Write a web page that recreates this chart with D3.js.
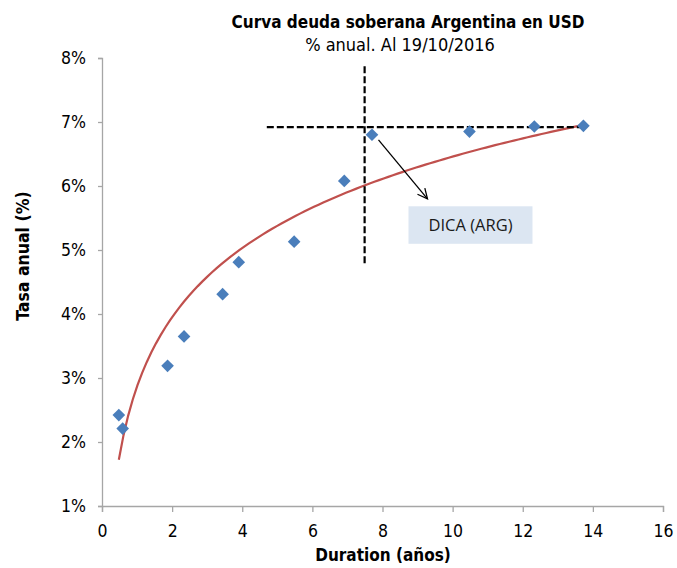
<html>
<script src="https://d3js.org/d3.v7.min.js"></script>
<body style="margin:0">
<div id="chart"></div>
<script>

// data
var duration = [0.48, 0.59, 1.87, 2.34, 3.44, 3.90, 5.48, 6.91, 7.70, 10.48, 12.33, 13.73]
var tasa = [2.42, 2.21, 3.19, 3.65, 4.31, 4.81, 5.13, 6.08, 6.80, 6.85, 6.93, 6.94]
var x_ticks = [0, 2, 4, 6, 8, 10, 12, 14, 16]
var y_ticks = [1, 2, 3, 4, 5, 6, 7, 8]

// reference lines (duration / tasa)
var ref_vertical = {x: 7.49, y1: 4.78, y2: 7.87}
var ref_horizontal = {y: 6.92, x1: 4.70, x2: 13.73}
var dica_label = "DICA (ARG)"

var svg_width = 677
var svg_height = 568
var margin = {left: 102, right: 14, top: 58, bottom: 62}

var svg = d3.select("#chart").append("svg")
.attr("width", svg_width)
.attr("height", svg_height)
.style("background", "white")

var x = d3.scaleLinear()
.domain([0, 16])
.range([margin.left, svg_width - margin.right])

var y = d3.scaleLinear()
.domain([1, 8])
.range([svg_height - margin.bottom, margin.top])

var tick_font = "'DejaVu Sans Condensed', 'DejaVu Sans', sans-serif"

// axes
var x_axis = svg.append("g")
.attr("transform", "translate(0," + y(1) + ")")
.call(d3.axisBottom(x).tickValues(x_ticks).tickSize(6).tickPadding(13))

var y_axis = svg.append("g")
.attr("transform", "translate(" + x(0) + ",0)")
.call(d3.axisLeft(y).tickValues(y_ticks).tickSize(4).tickPadding(12).tickFormat(function(d) { return d + "%" }))

svg.selectAll(".domain, .tick line")
.style("stroke", "#a6a6a6")
.style("stroke-width", 1.3)

svg.selectAll(".tick text")
.style("font-family", tick_font)
.style("font-size", "17.5px")
.style("fill", "#000")

// log trendline (least squares on ln(duration))
var ln_x = duration.map(function(d) { return Math.log(d) })
var mean_l = d3.mean(ln_x)
var mean_y = d3.mean(tasa)
var sxy = d3.sum(ln_x, function(l, i) { return (l - mean_l) * (tasa[i] - mean_y) })
var sxx = d3.sum(ln_x, function(l) { return (l - mean_l) * (l - mean_l) })
var slope = sxy / sxx
var intercept = mean_y - slope * mean_l

var x_min = d3.min(duration)
var x_max = d3.max(duration)
var trend_pts = d3.range(0, 101).map(function(i) {
  var xv = x_min + (x_max - x_min) * i / 100
  return [xv, intercept + slope * Math.log(xv)]
})

svg.append("path")
.attr("d", d3.line().x(function(d) { return x(d[0]) }).y(function(d) { return y(d[1]) })(trend_pts))
.style("fill", "none")
.style("stroke", "#c0504d")
.style("stroke-width", 2.2)

// dashed reference lines
svg.append("line")
.attr("x1", x(ref_vertical.x)).attr("x2", x(ref_vertical.x))
.attr("y1", y(ref_vertical.y2)).attr("y2", y(ref_vertical.y1))
.style("stroke", "#000")
.style("stroke-width", 2.2)
.style("stroke-dasharray", "7,3")

svg.append("line")
.attr("x1", x(ref_horizontal.x1)).attr("x2", x(ref_horizontal.x2))
.attr("y1", y(ref_horizontal.y)).attr("y2", y(ref_horizontal.y))
.style("stroke", "#000")
.style("stroke-width", 2.2)
.style("stroke-dasharray", "7,3")

// markers
svg.selectAll(".pt")
.data(duration)
.enter().append("path")
.attr("class", "pt")
.attr("d", d3.symbol().type(d3.symbolSquare).size(80))
.attr("transform", function(d, i) { return "translate(" + x(d) + "," + y(tasa[i]) + ") rotate(45)" })
.style("fill", "#4a7ebb")

// arrow from DICA point to label
var dica_x = duration[8], dica_y = tasa[8]
var ax1 = x(dica_x) + 6.5, ay1 = y(dica_y) + 5
var ax2 = x(dica_x) + 55.5, ay2 = y(dica_y) + 64
var ang = Math.atan2(ay2 - ay1, ax2 - ax1)

svg.append("line")
.attr("x1", ax1).attr("y1", ay1).attr("x2", ax2).attr("y2", ay2)
.style("stroke", "#000").style("stroke-width", 1.3)

svg.append("path")
.attr("d", "M" + (ax2 - 11 * Math.cos(ang - 0.45)) + "," + (ay2 - 11 * Math.sin(ang - 0.45)) +
  " L" + ax2 + "," + ay2 +
  " L" + (ax2 - 11 * Math.cos(ang + 0.45)) + "," + (ay2 - 11 * Math.sin(ang + 0.45)))
.style("fill", "none").style("stroke", "#000").style("stroke-width", 1.3)

// label box
var box_x = ax2 - 19, box_y = ay2 + 7.5
svg.append("rect")
.attr("x", box_x).attr("y", box_y)
.attr("width", 124).attr("height", 37.5)
.style("fill", "#dce6f2")

svg.append("text")
.text(dica_label)
.attr("x", box_x + 62).attr("y", box_y + 24.5)
.attr("text-anchor", "middle")
.style("font-family", "'Open Sans', sans-serif")
.style("font-size", "16.5px")
.style("fill", "#1a1a1a")

// titles
svg.append("text")
.text("Curva deuda soberana Argentina en USD")
.attr("x", 408).attr("y", 28)
.attr("text-anchor", "middle")
.style("font-family", tick_font)
.style("font-weight", "bold")
.style("font-size", "17px")

svg.append("text")
.text("% anual. Al 19/10/2016")
.attr("x", 400).attr("y", 51)
.attr("text-anchor", "middle")
.style("font-family", tick_font)
.style("font-size", "18px")

svg.append("text")
.text("Duration (años)")
.attr("x", 383).attr("y", 561)
.attr("text-anchor", "middle")
.style("font-family", tick_font)
.style("font-weight", "bold")
.style("font-size", "17px")

svg.append("text")
.text("Tasa anual (%)")
.attr("transform", "translate(29," + 256 + ") rotate(-90)")
.attr("text-anchor", "middle")
.style("font-family", tick_font)
.style("font-weight", "bold")
.style("font-size", "17.5px")

</script>
</body>
</html>
